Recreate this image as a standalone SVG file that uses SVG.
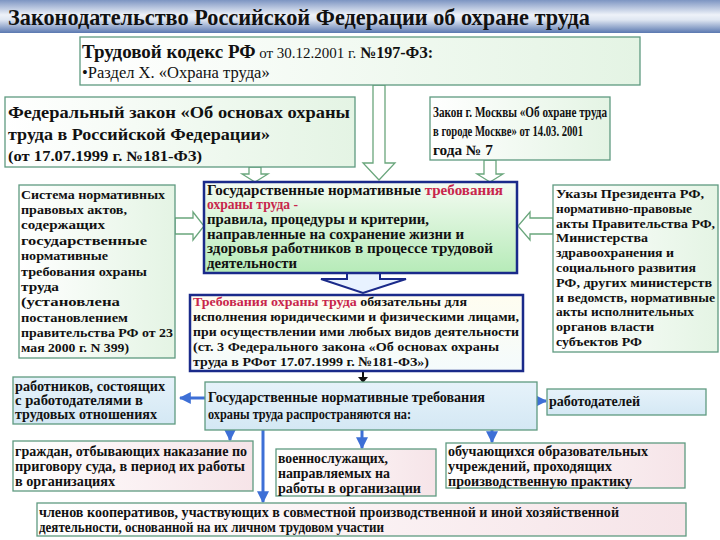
<svg xmlns="http://www.w3.org/2000/svg" width="720" height="540" viewBox="0 0 720 540">
<defs>
<linearGradient id="gTitle" x1="0" y1="0" x2="0" y2="1">
<stop offset="0" stop-color="#7d95c2"/><stop offset="0.45" stop-color="#eef2f9"/><stop offset="0.6" stop-color="#dfe6f2"/><stop offset="1" stop-color="#5a78b0"/>
</linearGradient>
<linearGradient id="gGreen" x1="0" y1="0" x2="1" y2="0">
<stop offset="0" stop-color="#ffffff"/><stop offset="1" stop-color="#e4f4e4"/>
</linearGradient>
<linearGradient id="gCenter" x1="0" y1="0" x2="0" y2="1">
<stop offset="0" stop-color="#f4fbf2"/><stop offset="1" stop-color="#b6ebb8"/>
</linearGradient>
<linearGradient id="gReq" x1="0" y1="0" x2="0" y2="1">
<stop offset="0" stop-color="#fffdf0"/><stop offset="1" stop-color="#f4fbfc"/>
</linearGradient>
<linearGradient id="gPink" x1="0" y1="0" x2="1" y2="0">
<stop offset="0" stop-color="#ffffff"/><stop offset="1" stop-color="#f6e4e8"/>
</linearGradient>
<linearGradient id="gBlue" x1="0" y1="0" x2="0" y2="1">
<stop offset="0" stop-color="#e6f2fa"/><stop offset="1" stop-color="#d4e8f4"/>
</linearGradient>
<marker id="bh" viewBox="0 0 10 10" refX="9" refY="5" markerWidth="4" markerHeight="4" orient="auto">
<path d="M0,0 L10,5 L0,10 Z" fill="#3d6fd6"/>
</marker>
</defs>
<style>
.box{stroke:#5f9a80;stroke-width:1.3}
.hol{fill:#ffffff;stroke:#6aa67c;stroke-width:1.3}
.red{fill:#c8264c}
.bl{stroke:#3d6fd6;stroke-width:3;fill:none}
</style>

<g id="title">
<rect x="0" y="0" width="720" height="33" fill="url(#gTitle)"/>
<text x="8" y="25" font-family="Liberation Serif, serif" font-weight="bold" font-size="23" fill="#111" textLength="582" lengthAdjust="spacingAndGlyphs">Законодательство Российской Федерации об охране труда</text>
</g>

<g id="connectors">
<path class="hol" d="M373,85 L385,85 L385,163 L395,163 L379,180 L363,163 L373,163 Z"/>
<path class="hol" d="M249,167 L261,167 L261,174 L268,174 L255,182 L242,174 L249,174 Z"/>
<path class="hol" d="M484,160 L496,160 L496,174 L503,174 L490,182 L477,174 L484,174 Z"/>
<path class="hol" d="M175,218 L193,218 L193,212 L204,226 L193,240 L193,234 L175,234 Z"/>
<path class="hol" d="M553,218 L530,218 L530,212 L518,226 L530,240 L530,234 L553,234 Z"/>
<path d="M347,273 L380,273 L380,279 L406,279 L363,293 L321,279 L347,279 Z" fill="#e8f2ff" stroke="#1a2a8a" stroke-width="2"/>
<path d="M363,372 L363,378" stroke="#111" stroke-width="2"/>
<path d="M358,377 L368,377 L363,383 Z" fill="#111"/>
<line class="bl" x1="205" y1="398" x2="180" y2="398" marker-end="url(#bh)"/>
<line class="bl" x1="537" y1="401" x2="546" y2="401" marker-end="url(#bh)"/>
<line class="bl" x1="230" y1="430" x2="230" y2="440" marker-end="url(#bh)"/>
<line class="bl" x1="263" y1="430" x2="263" y2="502" marker-end="url(#bh)"/>
<line class="bl" x1="362" y1="430" x2="362" y2="448" marker-end="url(#bh)"/>
<line class="bl" x1="492" y1="430" x2="492" y2="442" marker-end="url(#bh)"/>
</g>

<g font-family="Liberation Serif, serif" fill="#111">
<g id="tk">
<rect class="box" x="80" y="37" width="560" height="48" fill="url(#gGreen)"/>
<text x="82" y="58" font-size="19"><tspan font-weight="bold">Трудовой кодекс РФ</tspan><tspan font-size="15"> от 30.12.2001 г. </tspan><tspan font-weight="bold" font-size="16">№197-ФЗ:</tspan></text>
<text x="82" y="78" font-size="16.5">•Раздел X. «Охрана труда»</text>
</g>

<g id="fz" font-weight="bold">
<rect class="box" x="5" y="97" width="350" height="70" fill="url(#gGreen)"/>
<text x="8" y="118" font-size="17" textLength="342" lengthAdjust="spacingAndGlyphs">Федеральный закон «Об основах охраны</text>
<text x="8" y="140" font-size="17" textLength="262" lengthAdjust="spacingAndGlyphs">труда в Российской Федерации»</text>
<text x="8" y="161" font-size="14" textLength="194" lengthAdjust="spacingAndGlyphs">(от 17.07.1999 г. №181-ФЗ)</text>
</g>

<g id="moscow" font-weight="bold">
<rect class="box" x="430" y="97" width="180" height="63" fill="url(#gGreen)"/>
<text x="433" y="117" font-size="14" textLength="174" lengthAdjust="spacingAndGlyphs">Закон г. Москвы «Об охране труда</text>
<text x="433" y="136" font-size="14" textLength="150" lengthAdjust="spacingAndGlyphs">в городе Москве» от 14.03. 2001</text>
<text x="433" y="155" font-size="14" textLength="60" lengthAdjust="spacingAndGlyphs">года № 7</text>
</g>

<g id="system" font-weight="bold" font-size="13">
<rect class="box" x="19" y="185" width="156" height="173" fill="url(#gGreen)"/>
<text x="21" y="199" textLength="144" lengthAdjust="spacingAndGlyphs">Система нормативных</text>
<text x="21" y="214" textLength="106" lengthAdjust="spacingAndGlyphs">правовых актов,</text>
<text x="21" y="229" textLength="84" lengthAdjust="spacingAndGlyphs">содержащих</text>
<text x="21" y="245" textLength="126" lengthAdjust="spacingAndGlyphs">государственные</text>
<text x="21" y="260" textLength="87" lengthAdjust="spacingAndGlyphs">нормативные</text>
<text x="21" y="276" textLength="126" lengthAdjust="spacingAndGlyphs">требования охраны</text>
<text x="21" y="291" textLength="38" lengthAdjust="spacingAndGlyphs">труда</text>
<text x="21" y="306" textLength="99" lengthAdjust="spacingAndGlyphs">(установлена</text>
<text x="21" y="322" textLength="107" lengthAdjust="spacingAndGlyphs">постановлением</text>
<text x="21" y="337" textLength="152" lengthAdjust="spacingAndGlyphs">правительства РФ от 23</text>
<text x="21" y="352" textLength="108" lengthAdjust="spacingAndGlyphs">мая 2000 г. N 399)</text>
</g>

<g id="center" font-weight="bold" font-size="14">
<rect x="204" y="182" width="313" height="91" fill="url(#gCenter)" stroke="#1a2a8a" stroke-width="2.5"/>
<text x="207" y="195" textLength="296" lengthAdjust="spacingAndGlyphs">Государственные нормативные <tspan class="red">требования</tspan></text>
<text x="207" y="209" textLength="91" lengthAdjust="spacingAndGlyphs"><tspan class="red">охраны труда -</tspan></text>
<text x="207" y="224" textLength="222" lengthAdjust="spacingAndGlyphs">правила, процедуры и критерии,</text>
<text x="207" y="239" textLength="257" lengthAdjust="spacingAndGlyphs">направленные на сохранение жизни и</text>
<text x="207" y="253" textLength="286" lengthAdjust="spacingAndGlyphs">здоровья работников в процессе трудовой</text>
<text x="207" y="268" textLength="90" lengthAdjust="spacingAndGlyphs">деятельности</text>
</g>

<g id="decree" font-weight="bold" font-size="13">
<rect class="box" x="553" y="185" width="165" height="167" fill="url(#gGreen)"/>
<text x="556" y="198" textLength="148" lengthAdjust="spacingAndGlyphs">Указы Президента РФ,</text>
<text x="556" y="213" textLength="136" lengthAdjust="spacingAndGlyphs">нормативно-правовые</text>
<text x="556" y="228" textLength="159" lengthAdjust="spacingAndGlyphs">акты Правительства РФ,</text>
<text x="556" y="242" textLength="92" lengthAdjust="spacingAndGlyphs">Министерства</text>
<text x="556" y="257" textLength="118" lengthAdjust="spacingAndGlyphs">здравоохранения и</text>
<text x="556" y="272" textLength="140" lengthAdjust="spacingAndGlyphs">социального развития</text>
<text x="556" y="287" textLength="156" lengthAdjust="spacingAndGlyphs">РФ, других министерств</text>
<text x="556" y="302" textLength="159" lengthAdjust="spacingAndGlyphs">и ведомств, нормативные</text>
<text x="556" y="316" textLength="138" lengthAdjust="spacingAndGlyphs">акты исполнительных</text>
<text x="556" y="331" textLength="98" lengthAdjust="spacingAndGlyphs">органов власти</text>
<text x="556" y="346" textLength="86" lengthAdjust="spacingAndGlyphs">субъектов РФ</text>
</g>

<g id="requirements" font-weight="bold" font-size="13.5">
<rect x="190" y="295" width="333" height="76" fill="url(#gReq)" stroke="#1a2a8a" stroke-width="2.5"/>
<text x="193" y="306" textLength="274" lengthAdjust="spacingAndGlyphs"><tspan class="red">Требования охраны труда</tspan> обязательны для</text>
<text x="193" y="321" textLength="326" lengthAdjust="spacingAndGlyphs">исполнения юридическими и физическими лицами,</text>
<text x="193" y="336" textLength="326" lengthAdjust="spacingAndGlyphs">при осуществлении ими любых видов деятельности</text>
<text x="193" y="351" textLength="306" lengthAdjust="spacingAndGlyphs">(ст. 3 Федерального закона  «Об основах охраны</text>
<text x="193" y="366" textLength="236" lengthAdjust="spacingAndGlyphs">труда в РФот 17.07.1999 г. №181-ФЗ»)</text>
</g>

<g id="extends" font-weight="bold" font-size="14">
<rect class="box" x="205" y="382" width="332" height="48" fill="url(#gBlue)"/>
<text x="208" y="402" textLength="277" lengthAdjust="spacingAndGlyphs">Государственные нормативные требования</text>
<text x="208" y="419" textLength="203" lengthAdjust="spacingAndGlyphs">охраны труда распространяются на:</text>
</g>

<g id="workers" font-weight="bold" font-size="14">
<rect class="box" x="13" y="377" width="162" height="47" fill="url(#gBlue)"/>
<text x="15" y="391" textLength="150" lengthAdjust="spacingAndGlyphs">работников, состоящих</text>
<text x="15" y="405" textLength="128" lengthAdjust="spacingAndGlyphs">с работодателями в</text>
<text x="15" y="419" textLength="142" lengthAdjust="spacingAndGlyphs">трудовых отношениях</text>
</g>

<g id="employers" font-weight="bold" font-size="14">
<rect class="box" x="547" y="389" width="159" height="26" fill="url(#gBlue)"/>
<text x="549" y="406" textLength="91" lengthAdjust="spacingAndGlyphs">работодателей</text>
</g>

<g id="convicts" font-weight="bold" font-size="14">
<rect class="box" x="13" y="441" width="240" height="50" fill="url(#gPink)"/>
<text x="15" y="456" textLength="232" lengthAdjust="spacingAndGlyphs">граждан, отбывающих наказание по</text>
<text x="15" y="471" textLength="230" lengthAdjust="spacingAndGlyphs">приговору суда, в период их работы</text>
<text x="15" y="486" textLength="100" lengthAdjust="spacingAndGlyphs">в организациях</text>
</g>

<g id="military" font-weight="bold" font-size="14">
<rect class="box" x="276" y="449" width="160" height="47" fill="url(#gPink)"/>
<text x="278" y="463" textLength="110" lengthAdjust="spacingAndGlyphs">военнослужащих,</text>
<text x="278" y="478" textLength="112" lengthAdjust="spacingAndGlyphs">направляемых на</text>
<text x="278" y="493" textLength="143" lengthAdjust="spacingAndGlyphs">работы в организации</text>
</g>

<g id="students" font-weight="bold" font-size="14">
<rect class="box" x="446" y="443" width="239" height="45" fill="url(#gPink)"/>
<text x="448" y="456" textLength="200" lengthAdjust="spacingAndGlyphs">обучающихся образовательных</text>
<text x="448" y="471" textLength="164" lengthAdjust="spacingAndGlyphs">учреждений, проходящих</text>
<text x="448" y="486" textLength="184" lengthAdjust="spacingAndGlyphs">производственную практику</text>
</g>

<g id="coop" font-weight="bold" font-size="14">
<rect class="box" x="37" y="503" width="649" height="33" fill="url(#gPink)"/>
<text x="39" y="517" textLength="580" lengthAdjust="spacingAndGlyphs">членов кооперативов, участвующих в совместной производственной и иной хозяйственной</text>
<text x="39" y="532" textLength="345" lengthAdjust="spacingAndGlyphs">деятельности, основанной на их личном трудовом участии</text>
</g>
</g>
</svg>
